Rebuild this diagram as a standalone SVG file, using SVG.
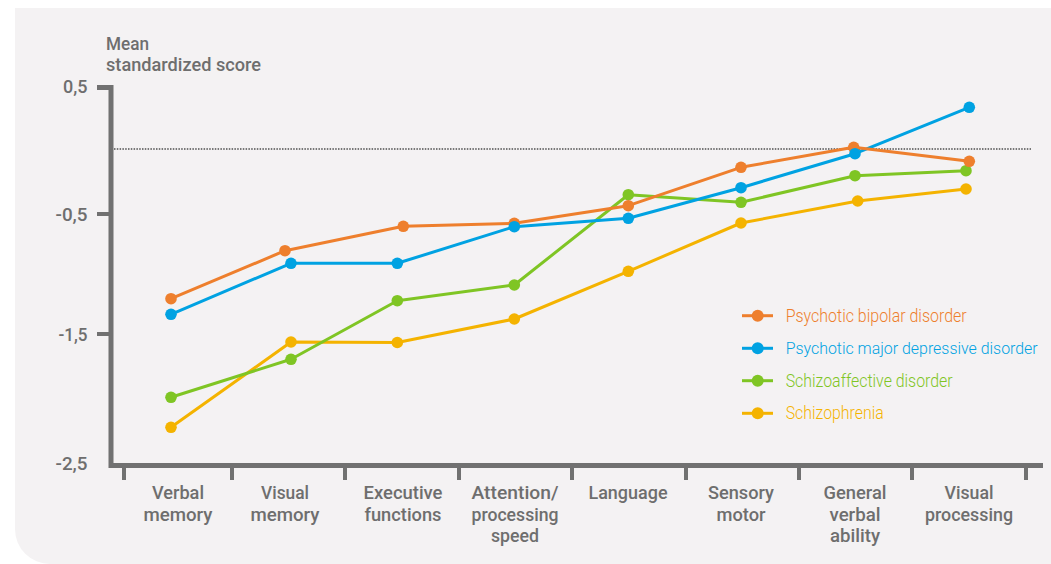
<svg xmlns="http://www.w3.org/2000/svg" width="1051" height="564" viewBox="0 0 1051 564">
<style>
.axis{stroke:#717171;stroke-width:5;fill:none}
.tick{stroke:#717171;stroke-width:4;fill:none}
.lbl{font-family:Roboto,"Liberation Sans",sans-serif;font-weight:500;font-size:19px;fill:#6e6e6e;text-anchor:middle}
.ytl{font-family:Roboto,"Liberation Sans",sans-serif;font-weight:500;font-size:18px;fill:#6e6e6e;text-anchor:end}
.ttl{font-family:Roboto,"Liberation Sans",sans-serif;font-weight:500;font-size:18px;fill:#6e6e6e}
.leg{font-family:Roboto,"Liberation Sans",sans-serif;font-weight:300;font-size:17.5px}
.s{fill:none;stroke-width:3;stroke-linejoin:round}
.o{stroke:#ee7f2d}.b{stroke:#00a2e2}.g{stroke:#7fc524}.y{stroke:#f4b300}
.fo{fill:#ee7f2d}.fb{fill:#00a2e2}.fg{fill:#7fc524}.fy{fill:#f4b300}
</style>
<path d="M15 8 H1051 V564 H50 A35 35 0 0 1 15 529 Z" fill="#f4f2f3"/>
<g id="axes">
<line x1="114" y1="149" x2="1031" y2="149" stroke="#777" stroke-width="1.8" stroke-dasharray="1.5 1.3"/>
<path class="axis" d="M97 87.5 H111 V465.5 H1043"/>
<line class="tick" x1="97" y1="214" x2="109" y2="214"/>
<line class="tick" x1="97" y1="334" x2="109" y2="334"/>
<g class="tick">
<line x1="124" y1="467" x2="124" y2="480"/><line x1="232" y1="467" x2="232" y2="480"/><line x1="345" y1="467" x2="345" y2="480"/><line x1="459" y1="467" x2="459" y2="480"/><line x1="572" y1="467" x2="572" y2="480"/><line x1="686" y1="467" x2="686" y2="480"/><line x1="799" y1="467" x2="799" y2="480"/><line x1="912" y1="467" x2="912" y2="480"/><line x1="1026" y1="467" x2="1026" y2="480"/>
</g>
<text class="ttl" x="106" y="49.5" textLength="43" lengthAdjust="spacingAndGlyphs">Mean</text>
<text class="ttl" x="106" y="71" textLength="155" lengthAdjust="spacingAndGlyphs">standardized score</text>
<text class="ytl" x="87.5" y="92.5">0,5</text>
<text class="ytl" x="87.5" y="220.5" textLength="32" lengthAdjust="spacingAndGlyphs">-0,5</text>
<text class="ytl" x="87.5" y="340.5" textLength="29" lengthAdjust="spacingAndGlyphs">-1,5</text>
<text class="ytl" x="87.5" y="469.5" textLength="32" lengthAdjust="spacingAndGlyphs">-2,5</text>
</g>
<g id="categories">
<text class="lbl" x="178" y="499" textLength="52" lengthAdjust="spacingAndGlyphs">Verbal</text>
<text class="lbl" x="178" y="520.5" textLength="69" lengthAdjust="spacingAndGlyphs">memory</text>
<text class="lbl" x="285" y="499" textLength="48" lengthAdjust="spacingAndGlyphs">Visual</text>
<text class="lbl" x="285" y="520.5" textLength="69" lengthAdjust="spacingAndGlyphs">memory</text>
<text class="lbl" x="403" y="499" textLength="79" lengthAdjust="spacingAndGlyphs">Executive</text>
<text class="lbl" x="403" y="520.5" textLength="77" lengthAdjust="spacingAndGlyphs">functions</text>
<text class="lbl" x="515" y="499" textLength="87" lengthAdjust="spacingAndGlyphs">Attention/</text>
<text class="lbl" x="515" y="520.5" textLength="87" lengthAdjust="spacingAndGlyphs">processing</text>
<text class="lbl" x="515" y="542" textLength="48" lengthAdjust="spacingAndGlyphs">speed</text>
<text class="lbl" x="628" y="499" textLength="79" lengthAdjust="spacingAndGlyphs">Language</text>
<text class="lbl" x="741" y="499" textLength="66" lengthAdjust="spacingAndGlyphs">Sensory</text>
<text class="lbl" x="741" y="520.5" textLength="49" lengthAdjust="spacingAndGlyphs">motor</text>
<text class="lbl" x="855" y="499" textLength="63" lengthAdjust="spacingAndGlyphs">General</text>
<text class="lbl" x="855" y="520.5" textLength="51" lengthAdjust="spacingAndGlyphs">verbal</text>
<text class="lbl" x="855" y="542" textLength="50" lengthAdjust="spacingAndGlyphs">ability</text>
<text class="lbl" x="969" y="499" textLength="49" lengthAdjust="spacingAndGlyphs">Visual</text>
<text class="lbl" x="969" y="520.5" textLength="88" lengthAdjust="spacingAndGlyphs">processing</text>
</g>
<g id="connectors">
<polyline class="s y" points="171,427.3 291,342 397.3,342.5 514.3,319 628.3,271.3 741,223 857.7,201 966,189"/>
<polyline class="s g" points="171,397.3 291,359.3 397.3,300.7 514.3,285 628.3,194.7 741,202.3 855,175.7 966,170.7"/>
<polyline class="s b" points="171,314.3 291,263.3 397.3,263.3 514.3,226.7 628.3,218.3 741,187.7 855,153.7 969.3,107.3"/>
<polyline class="s o" points="171,298.7 285,250.7 403.3,226.3 514.3,223.3 628.3,205.7 741,167.3 853.7,147.3 969.3,161.3"/>
</g>
<g id="series-schizophrenia" class="fy">
<circle cx="171" cy="427.3" r="5.8"/><circle cx="291" cy="342" r="5.8"/><circle cx="397.3" cy="342.5" r="5.8"/><circle cx="514.3" cy="319" r="5.8"/><circle cx="628.3" cy="271.3" r="5.8"/><circle cx="741" cy="223" r="5.8"/><circle cx="857.7" cy="201" r="5.8"/><circle cx="966" cy="189" r="5.8"/>
</g>
<g id="series-schizoaffective" class="fg">
<circle cx="171" cy="397.3" r="5.8"/><circle cx="291" cy="359.3" r="5.8"/><circle cx="397.3" cy="300.7" r="5.8"/><circle cx="514.3" cy="285" r="5.8"/><circle cx="628.3" cy="194.7" r="5.8"/><circle cx="741" cy="202.3" r="5.8"/><circle cx="855" cy="175.7" r="5.8"/><circle cx="966" cy="170.7" r="5.8"/>
</g>
<g id="series-bipolar" class="fo">
<circle cx="171" cy="298.7" r="5.8"/><circle cx="285" cy="250.7" r="5.8"/><circle cx="403.3" cy="226.3" r="5.8"/><circle cx="514.3" cy="223.3" r="5.8"/><circle cx="628.3" cy="205.7" r="5.8"/><circle cx="741" cy="167.3" r="5.8"/><circle cx="853.7" cy="147.3" r="5.8"/><circle cx="969.3" cy="161.3" r="5.8"/>
</g>
<g id="series-depressive" class="fb">
<circle cx="171" cy="314.3" r="5.8"/><circle cx="291" cy="263.3" r="5.8"/><circle cx="397.3" cy="263.3" r="5.8"/><circle cx="514.3" cy="226.7" r="5.8"/><circle cx="628.3" cy="218.3" r="5.8"/><circle cx="741" cy="187.7" r="5.8"/><circle cx="855" cy="153.7" r="5.8"/><circle cx="969.3" cy="107.3" r="5.8"/>
</g>
<g id="legend">
<line class="s o" x1="742" y1="315.7" x2="773" y2="315.7"/><circle class="fo" cx="757.7" cy="315.7" r="6"/>
<text class="leg fo" x="785.7" y="321.7" textLength="181" lengthAdjust="spacingAndGlyphs">Psychotic bipolar disorder</text>
<line class="s b" x1="742" y1="348.3" x2="773" y2="348.3"/><circle class="fb" cx="757.7" cy="348.3" r="6"/>
<text class="leg fb" x="785.7" y="354.3" textLength="252" lengthAdjust="spacingAndGlyphs" style="font-size:16.5px">Psychotic major depressive disorder</text>
<line class="s g" x1="742" y1="380.7" x2="773" y2="380.7"/><circle class="fg" cx="757.7" cy="380.7" r="6"/>
<text class="leg fg" x="785.7" y="387" textLength="167" lengthAdjust="spacingAndGlyphs">Schizoaffective disorder</text>
<line class="s y" x1="742" y1="413.3" x2="773" y2="413.3"/><circle class="fy" cx="757.7" cy="413.3" r="6"/>
<text class="leg fy" x="785.7" y="419.3" textLength="98" lengthAdjust="spacingAndGlyphs">Schizophrenia</text>
</g>
</svg>
